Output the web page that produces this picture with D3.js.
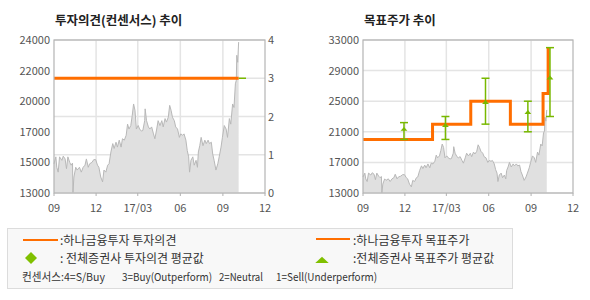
<!DOCTYPE html>
<html>
<head>
<meta charset="utf-8">
<script src="https://cdn.jsdelivr.net/npm/d3@7"></script>
<style>
body { margin: 0; background: #fff; }
text { font-family: "Noto Sans CJK KR", "Noto Sans", sans-serif; }
</style>
</head>
<body>
<script>
// stock price (gray area, shared by both panels)
var priceDates = ['2016-09-01','2016-09-05','2016-09-07','2016-09-10','2016-09-13','2016-09-18','2016-09-21','2016-09-25','2016-09-28',
  '2016-10-01','2016-10-05','2016-10-08','2016-10-11','2016-10-12','2016-10-14','2016-10-18','2016-10-21','2016-10-26','2016-10-30',
  '2016-11-03','2016-11-07','2016-11-10','2016-11-14','2016-11-17','2016-11-22','2016-11-26','2016-11-30',
  '2016-12-04','2016-12-07','2016-12-11','2016-12-15','2016-12-18','2016-12-22','2016-12-26','2016-12-29',
  '2017-01-02','2017-01-06','2017-01-09','2017-01-13','2017-01-16','2017-01-20','2017-01-24','2017-01-27','2017-01-31',
  '2017-02-04','2017-02-07','2017-02-10','2017-02-14','2017-02-17','2017-02-20','2017-02-23','2017-02-26',
  '2017-03-02','2017-03-05','2017-03-09','2017-03-12','2017-03-16','2017-03-17','2017-03-20','2017-03-24','2017-03-27','2017-03-31',
  '2017-04-04','2017-04-07','2017-04-11','2017-04-14','2017-04-18','2017-04-22','2017-04-25','2017-04-29',
  '2017-05-02','2017-05-06','2017-05-09','2017-05-12','2017-05-15','2017-05-19','2017-05-22','2017-05-26','2017-05-30',
  '2017-06-02','2017-06-06','2017-06-09','2017-06-13','2017-06-16','2017-06-19','2017-06-21','2017-06-24','2017-06-28',
  '2017-07-01','2017-07-05','2017-07-08','2017-07-10','2017-07-13','2017-07-16','2017-07-20','2017-07-24','2017-07-27','2017-07-31',
  '2017-08-03','2017-08-07','2017-08-10','2017-08-13','2017-08-17','2017-08-21','2017-08-24','2017-08-28','2017-08-31',
  '2017-09-04','2017-09-08','2017-09-11','2017-09-15','2017-09-18','2017-09-22','2017-09-25','2017-09-28','2017-09-30',
  '2017-10-01','2017-10-03','2017-10-05'];
var priceValues = [15100,15600,14850,14500,15600,15350,15650,15450,14750,
  15600,15200,15000,15150,13050,14150,14850,14650,14850,14500,
  14850,15000,15450,14850,15100,15200,15400,15400,
  15000,14850,14150,13800,14650,14500,15000,15100,
  15950,16550,16200,16650,16300,16800,16300,16900,16800,
  17150,17950,17600,17850,18550,19400,18950,17600,
  17850,17600,17450,17500,18200,19050,18200,17750,17600,17750,
  17250,16900,17600,18200,17850,18200,17750,18350,
  18100,18450,19300,18950,18450,18200,17750,17600,17000,
  17250,17150,17250,16800,16050,15600,14500,15350,15600,
  15000,15350,14850,15950,16400,17000,16400,16800,16550,16800,
  16550,16650,15800,15350,14650,15100,15600,16300,17000,
  17850,17600,17000,18350,17950,19400,19150,20850,21100,
  22900,22400,23850];

// 하나금융투자 투자의견 / 전체증권사 평균
var opinionDates = ['2016-09-01', '2017-10-05'];
var opinionValues = [3, 3];
var opinionAvgDates = ['2017-10-05', '2017-10-21'];
var opinionAvgValues = [3, 3];

// 하나금융투자 목표주가 (step)
var targetDates = ['2016-09-01', '2017-01-30', '2017-04-23', '2017-07-18', '2017-09-27', '2017-10-08'];
var targetValues = [20000, 22000, 25000, 22000, 26000, 32000];

// 전체증권사 목표주가 평균 (min / max / mean)
var consDates = ['2016-11-29', '2017-02-27', '2017-05-25', '2017-08-25', '2017-10-12'];
var consMin = [20000, 20000, 22000, 21000, 23000];
var consMax = [22200, 23000, 28000, 25000, 32000];
var consMean = [21300, 21800, 24800, 23500, 28000];

var monthTicks = ['2016-09-01', '2016-12-01', '2017-03-01', '2017-06-01', '2017-09-01', '2017-12-01'];
var monthLabels = ['09', '12', '17/03', '06', '09', '12'];
var priceTickLabels = ['13000', '15000', '17000', '20000', '22000', '24000'];
var opinionTicks = [0, 1, 2, 3, 4];
var targetTicks = [13000, 17000, 21000, 25000, 29000, 33000];

var parse = d3.timeParse('%Y-%m-%d');
var orange = '#ff6e00', green = '#78b800';
var top0 = 40, bottom0 = 193;

var price = priceDates.map(function(d, i) { return {date: parse(d), value: priceValues[i]}; });

var svg = d3.select('body').append('svg').attr('width', 590).attr('height', 300);

function panel(x0, x1, title, yGrid, gridTicks) {
  var g = svg.append('g');
  var x = d3.scaleTime().domain([parse(monthTicks[0]), parse(monthTicks[monthTicks.length - 1])]).range([x0, x1]);

  g.append('text').attr('x', x0 + 1).attr('y', 25)
    .attr('font-size', 12.5).attr('font-weight', 'bold').attr('fill', '#222').text(title);

  g.selectAll('.hgrid').data(gridTicks).enter().append('line')
    .attr('x1', x0).attr('x2', x1)
    .attr('y1', function(d) { return yGrid(d); }).attr('y2', function(d) { return yGrid(d); })
    .attr('stroke', '#e4e4e4').attr('stroke-width', 1.5);
  g.selectAll('.vgrid').data(monthTicks.slice(1, -1)).enter().append('line')
    .attr('x1', function(d) { return x(parse(d)); }).attr('x2', function(d) { return x(parse(d)); })
    .attr('y1', top0).attr('y2', bottom0)
    .attr('stroke', '#e4e4e4').attr('stroke-width', 1.5);

  g.selectAll('.xl').data(monthTicks).enter().append('text')
    .attr('x', function(d) { return x(parse(d)); }).attr('y', 212)
    .attr('text-anchor', 'middle').attr('font-size', 11).attr('fill', '#555')
    .text(function(d, i) { return monthLabels[i]; });
  g.selectAll('.xt').data(monthTicks).enter().append('line')
    .attr('x1', function(d) { return x(parse(d)); }).attr('x2', function(d) { return x(parse(d)); })
    .attr('y1', bottom0).attr('y2', bottom0 + 3).attr('stroke', '#b0b0b0');
  return {g: g, x: x};
}

function drawPrice(p, y) {
  var area = d3.area().x(function(d) { return p.x(d.date); }).y0(bottom0).y1(function(d) { return y(d.value); });
  var line = d3.line().x(function(d) { return p.x(d.date); }).y(function(d) { return y(d.value); });
  p.g.append('path').datum(price).attr('d', area).attr('fill', '#e0e0e0');
  p.g.append('path').datum(price).attr('d', line).attr('fill', 'none').attr('stroke', '#b8b8b8').attr('stroke-width', 1);
}

function frame(p) {
  var r = p.x.range();
  p.g.append('rect').attr('x', r[0]).attr('y', top0).attr('width', r[1] - r[0]).attr('height', bottom0 - top0)
    .attr('fill', 'none').attr('stroke', '#b4b4b4').attr('stroke-width', 1.2);
}

// ---- left panel: 투자의견 ----
var yOpinion = d3.scaleLinear().domain([0, 4]).range([bottom0, top0]);
var yPrice1 = d3.scaleLinear().domain([13000, 24000]).range([bottom0, top0]);
var left = panel(54, 265, '투자의견(컨센서스) 추이', yOpinion, opinionTicks);
drawPrice(left, yPrice1);

var opLine = d3.line().x(function(d) { return left.x(parse(d[0])); }).y(function(d) { return yOpinion(d[1]); });
left.g.append('path').datum(d3.zip(opinionAvgDates, opinionAvgValues)).attr('d', opLine)
  .attr('fill', 'none').attr('stroke', green).attr('stroke-width', 1.5);
left.g.append('path').datum(d3.zip(opinionDates, opinionValues)).attr('d', opLine)
  .attr('fill', 'none').attr('stroke', orange).attr('stroke-width', 3);
frame(left);

left.g.selectAll('.yl').data(priceTickLabels).enter().append('text')
  .attr('x', 50).attr('y', function(d, i) { return yPrice1(13000 + i * 2200) + 4; })
  .attr('text-anchor', 'end').attr('font-size', 11).attr('fill', '#555').text(function(d) { return d; });
left.g.selectAll('.yr').data(opinionTicks).enter().append('text')
  .attr('x', 268).attr('y', function(d) { return yOpinion(d) + 4; })
  .attr('font-size', 11).attr('fill', '#555').text(function(d) { return d; });

// ---- right panel: 목표주가 ----
var yPrice2 = d3.scaleLinear().domain([13000, 33000]).range([bottom0, top0]);
var right = panel(363, 573, '목표주가 추이', yPrice2, targetTicks);
drawPrice(right, yPrice2);

var tgLine = d3.line().curve(d3.curveStepAfter)
  .x(function(d) { return right.x(parse(d[0])); }).y(function(d) { return yPrice2(d[1]); });
right.g.append('path').datum(d3.zip(targetDates, targetValues)).attr('d', tgLine)
  .attr('fill', 'none').attr('stroke', orange).attr('stroke-width', 3);

var cons = consDates.map(function(d, i) { return {x: right.x(parse(d)), lo: consMin[i], hi: consMax[i], mean: consMean[i]}; });
var eb = right.g.selectAll('.eb').data(cons).enter().append('g').attr('stroke', green).attr('stroke-width', 1.5);
eb.append('line').attr('x1', function(d) { return d.x; }).attr('x2', function(d) { return d.x; })
  .attr('y1', function(d) { return yPrice2(d.lo); }).attr('y2', function(d) { return yPrice2(d.hi); });
eb.append('line').attr('x1', function(d) { return d.x - 4; }).attr('x2', function(d) { return d.x + 4; })
  .attr('y1', function(d) { return yPrice2(d.lo); }).attr('y2', function(d) { return yPrice2(d.lo); });
eb.append('line').attr('x1', function(d) { return d.x - 4; }).attr('x2', function(d) { return d.x + 4; })
  .attr('y1', function(d) { return yPrice2(d.hi); }).attr('y2', function(d) { return yPrice2(d.hi); });
right.g.selectAll('.mean').data(cons).enter().append('path')
  .attr('d', d3.symbol(d3.symbolTriangle, 14))
  .attr('transform', function(d) { return 'translate(' + d.x + ',' + yPrice2(d.mean) + ') scale(1.2,0.8)'; })
  .attr('fill', green);
frame(right);

right.g.selectAll('.yl').data(targetTicks).enter().append('text')
  .attr('x', 359).attr('y', function(d) { return yPrice2(d) + 4; })
  .attr('text-anchor', 'end').attr('font-size', 11).attr('fill', '#555').text(function(d) { return d; });

// ---- legend ----
var lg = svg.append('g');
lg.append('rect').attr('x', 7.5).attr('y', 228.5).attr('width', 505).attr('height', 60)
  .attr('fill', '#f8f8f8').attr('stroke', '#dcdcdc');
lg.append('line').attr('x1', 23).attr('x2', 58).attr('y1', 240).attr('y2', 240).attr('stroke', orange).attr('stroke-width', 2);
lg.append('line').attr('x1', 316).attr('x2', 350).attr('y1', 239).attr('y2', 239).attr('stroke', orange).attr('stroke-width', 2);
lg.append('path').attr('d', d3.symbol(d3.symbolSquare, 72)).attr('transform', 'translate(31,258) rotate(45)').attr('fill', '#80c000');
lg.append('path').attr('d', d3.symbol(d3.symbolTriangle, 40)).attr('transform', 'translate(322,261) scale(1.4,0.75)').attr('fill', '#80c000');

var legendTexts = [
  {x: 60, y: 245, s: 12, t: ':하나금융투자 투자의견'},
  {x: 353, y: 245, s: 12, t: ':하나금융투자 목표주가'},
  {x: 60, y: 263, s: 12, t: ': 전체증권사 투자의견 평균값'},
  {x: 353, y: 263, s: 12, t: ':전체증권사 목표주가 평균값'},
  {x: 22, y: 281, s: 11, w: 83, t: '컨센서스:4=S/Buy'},
  {x: 122, y: 281, s: 11, w: 90, t: '3=Buy(Outperform)'},
  {x: 219, y: 281, s: 11, w: 44, t: '2=Neutral'},
  {x: 276, y: 281, s: 11, w: 101, t: '1=Sell(Underperform)'}
];
lg.selectAll('.lt').data(legendTexts).enter().append('text')
  .attr('x', function(d) { return d.x; }).attr('y', function(d) { return d.y; })
  .attr('font-size', function(d) { return d.s; }).attr('fill', '#333')
  .attr('textLength', function(d) { return d.w || null; })
  .attr('lengthAdjust', 'spacingAndGlyphs')
  .text(function(d) { return d.t; });
</script>
</body>
</html>
